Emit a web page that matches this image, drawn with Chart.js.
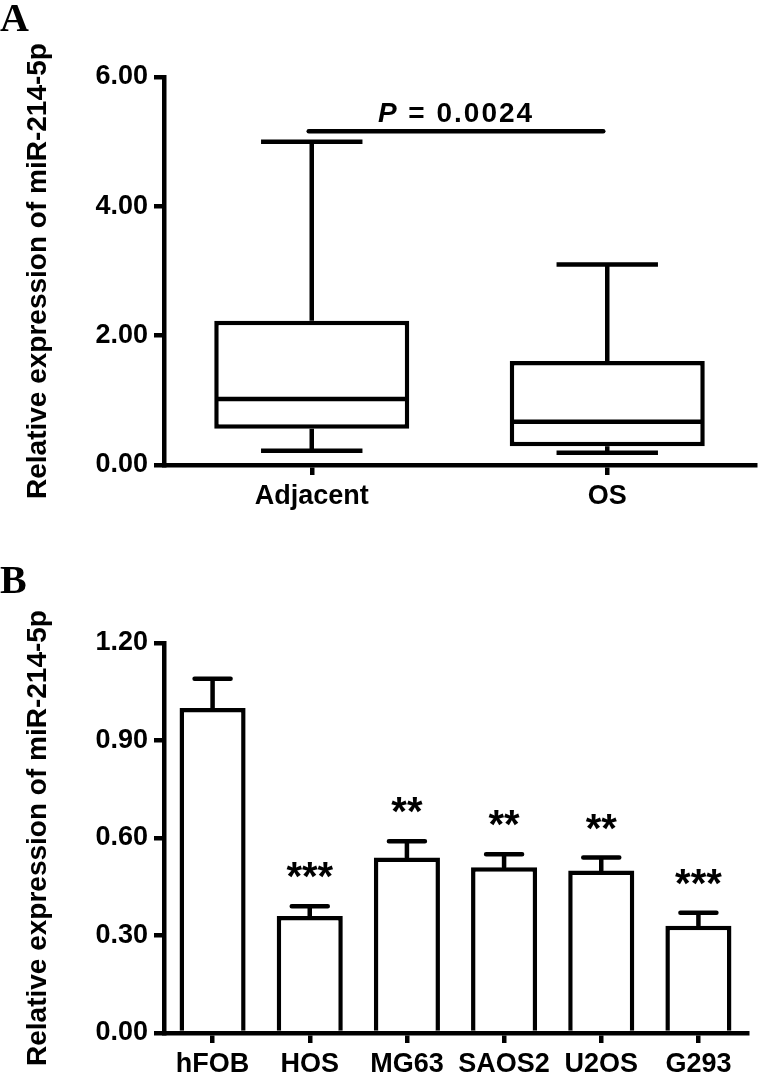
<!DOCTYPE html>
<html>
<head>
<meta charset="utf-8">
<script src="https://cdn.jsdelivr.net/npm/chart.js@4.4.1/dist/chart.umd.min.js"></script>
<style>
  html, body { margin: 0; padding: 0; background: #fff; }
  #page { position: relative; width: 760px; height: 1078px; overflow: hidden; }
  .panel-label { position: absolute; left: 0; font: bold 40px "Liberation Serif", "Times New Roman", serif; line-height: 1; color: #000; }
  #wrapA { position: absolute; left: 0; top: 0; width: 760px; height: 540px; }
  #wrapB { position: absolute; left: 0; top: 540px; width: 760px; height: 538px; }
</style>
</head>
<body>
<div id="page">
  <div id="wrapA"><canvas id="chartA" width="760" height="540"></canvas></div>
  <div id="wrapB"><canvas id="chartB" width="760" height="538"></canvas></div>
  <div class="panel-label" style="top:-2px">A</div>
  <div class="panel-label" style="top:560px">B</div>
</div>
<script>
// ---- panel A: box plot (tissue) ----
const groupsA = ['Adjacent', 'OS'];
const minA = [0.22, 0.19];
const q1A = [0.56, 0.29];
const medianA = [1.02, 0.67];
const q3A = [2.23, 1.61];
const maxA = [5.00, 3.10];
const ticksA = [0, 2, 4, 6];
const pLabel = 'P = 0.0024';
const pLineValue = 5.16;

// ---- panel B: cell lines ----
const cellLines = ['hFOB', 'HOS', 'MG63', 'SAOS2', 'U2OS', 'G293'];
const meanB = [1.00, 0.36, 0.54, 0.51, 0.50, 0.33];
const errB = [0.09, 0.03, 0.05, 0.04, 0.04, 0.04];
const starsB = ['', '***', '**', '**', '**', '***'];
const ticksB = [0, 0.3, 0.6, 0.9, 1.2];

const yTitle = 'Relative expression of miR-214-5p';
const FONT = '"Liberation Sans", Arial, sans-serif';
const LW = 4.5;

// common axis setup, GraphPad look
function yScale(min, max, tickList) {
    return {
        min: min, max: max, z: 1,
        afterBuildTicks: s => { s.ticks = tickList.map(v => ({ value: v })); },
        afterFit: s => { s.width = 164; },
        border: { display: true, color: '#000', width: LW },
        grid: { drawOnChartArea: false, drawTicks: true, tickLength: 10, color: '#000', lineWidth: LW, tickWidth: LW },
        ticks: { color: '#000', padding: 6, font: { family: FONT, weight: 'bold', size: 27 }, callback: v => Number(v).toFixed(2) },
        title: { display: true, text: yTitle, color: '#000', font: { family: FONT, weight: 'bold', size: 28 }, padding: { top: 21, bottom: 0 } }
    };
}

function xScale(height) {
    return {
        z: 1,
        afterFit: s => { s.height = height; },
        border: { display: true, color: '#000', width: LW },
        grid: { offset: false, drawOnChartArea: false, drawTicks: true, tickLength: 10, color: '#000', lineWidth: LW, tickWidth: LW },
        ticks: { color: '#000', padding: 5, maxRotation: 0, font: { family: FONT, weight: 'bold', size: 27 } }
    };
}

// whiskers, median and the P value line
const boxPlugin = {
    id: 'boxWhiskers',
    afterDatasetsDraw(chart) {
        const { ctx, scales: { x, y } } = chart;
        const meta = chart.getDatasetMeta(0);
        ctx.save();
        ctx.strokeStyle = '#000';
        ctx.lineWidth = LW;
        ctx.lineCap = 'butt';
        meta.data.forEach((el, i) => {
            const cx = el.x;
            const half = el.width / 2;
            const capHalf = el.width * 0.26;
            ctx.beginPath();
            // median
            ctx.moveTo(cx - half + 2, y.getPixelForValue(medianA[i]));
            ctx.lineTo(cx + half - 2, y.getPixelForValue(medianA[i]));
            // upper whisker
            ctx.moveTo(cx, y.getPixelForValue(q3A[i]));
            ctx.lineTo(cx, y.getPixelForValue(maxA[i]));
            ctx.moveTo(cx - capHalf, y.getPixelForValue(maxA[i]));
            ctx.lineTo(cx + capHalf, y.getPixelForValue(maxA[i]));
            // lower whisker
            ctx.moveTo(cx, y.getPixelForValue(q1A[i]));
            ctx.lineTo(cx, y.getPixelForValue(minA[i]));
            ctx.moveTo(cx - capHalf, y.getPixelForValue(minA[i]));
            ctx.lineTo(cx + capHalf, y.getPixelForValue(minA[i]));
            ctx.stroke();
        });

        // P value bracket
        const x1 = x.getPixelForValue(0) - 3;
        const x2 = x.getPixelForValue(1) - 4;
        const ly = y.getPixelForValue(pLineValue);
        ctx.lineCap = 'round';
        ctx.beginPath();
        ctx.moveTo(x1, ly);
        ctx.lineTo(x2, ly);
        ctx.stroke();

        const first = pLabel.charAt(0);
        const rest = pLabel.slice(1);
        const fItalic = 'italic bold 28px ' + FONT;
        const fBold = 'bold 28px ' + FONT;
        ctx.letterSpacing = '2px';
        ctx.font = fItalic;
        const w1 = ctx.measureText(first).width;
        ctx.font = fBold;
        const w2 = ctx.measureText(rest).width;
        const tx = (x1 + x2) / 2 - (w1 + w2) / 2;
        ctx.fillStyle = '#000';
        ctx.textBaseline = 'alphabetic';
        ctx.textAlign = 'left';
        ctx.font = fItalic;
        ctx.fillText(first, tx, ly - 9);
        ctx.font = fBold;
        ctx.fillText(rest, tx + w1, ly - 9);
        ctx.restore();
    }
};

// error bars (upper only) and significance stars
const errPlugin = {
    id: 'errorStars',
    afterDatasetsDraw(chart) {
        const { ctx, scales: { y } } = chart;
        const meta = chart.getDatasetMeta(0);
        ctx.save();
        ctx.strokeStyle = '#000';
        ctx.fillStyle = '#000';
        ctx.lineWidth = LW;
        ctx.lineCap = 'round';
        meta.data.forEach((el, i) => {
            const cx = el.x;
            const top = y.getPixelForValue(meanB[i] + errB[i]);
            ctx.beginPath();
            ctx.moveTo(cx, el.y);
            ctx.lineTo(cx, top);
            ctx.moveTo(cx - 18, top);
            ctx.lineTo(cx + 18, top);
            ctx.stroke();
            if (starsB[i]) {
                ctx.font = 'bold 40px ' + FONT;
                ctx.textAlign = 'center';
                ctx.textBaseline = 'alphabetic';
                ctx.fillText(starsB[i], cx, top - 16);
            }
        });
        ctx.restore();
    }
};

const chartA = new Chart(document.getElementById('chartA'), {
    type: 'bar',
    data: {
        labels: groupsA,
        datasets: [{
            data: groupsA.map((g, i) => [q1A[i], q3A[i]]),
            backgroundColor: '#fff',
            borderColor: '#000',
            borderWidth: LW,
            borderSkipped: false,
            barPercentage: 0.66,
            categoryPercentage: 1
        }]
    },
    options: {
        responsive: false,
        animation: false,
        layout: { padding: { top: 77, left: 0, right: 5, bottom: 0 } },
        plugins: { legend: { display: false }, tooltip: { enabled: false } },
        scales: { x: xScale(75), y: yScale(0, 6, ticksA) }
    },
    plugins: [boxPlugin]
});

const chartB = new Chart(document.getElementById('chartB'), {
    type: 'bar',
    data: {
        labels: cellLines,
        datasets: [{
            data: meanB,
            backgroundColor: '#fff',
            borderColor: '#000',
            borderWidth: LW,
            barPercentage: 0.68,
            categoryPercentage: 1
        }]
    },
    options: {
        responsive: false,
        animation: false,
        layout: { padding: { top: 103, left: 0, right: 13, bottom: 0 } },
        plugins: { legend: { display: false }, tooltip: { enabled: false } },
        scales: { x: xScale(45), y: yScale(0, 1.2, ticksB) }
    },
    plugins: [errPlugin]
});
</script>
</body>
</html>
